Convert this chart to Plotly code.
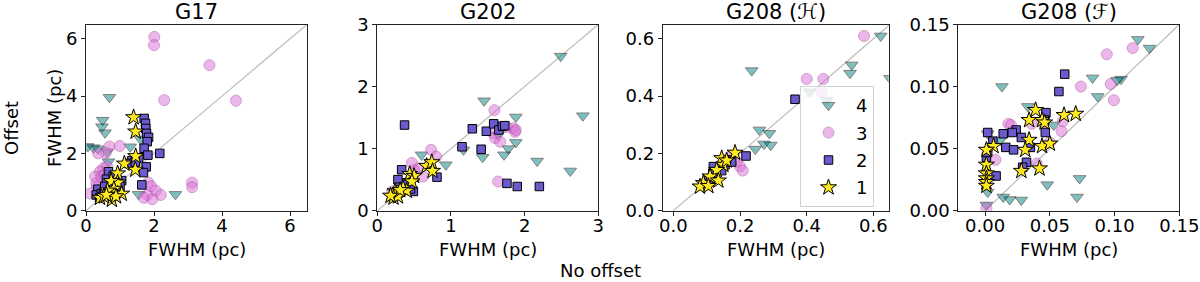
import plotly.graph_objects as go

# ---------------- data ----------------
panel_titles = ["G17", "G202", "G208 (ℋ)", "G208 (ℱ)"]
series_names = ["4", "3", "2", "1"]

# G17
g17_s4_x = [0.69, 0.49, 0.47, 0.56, 0.05, 0.22, 0.35, 1.30, 0.66, 1.55, 2.63, 1.60, 0.62]
g17_s4_y = [3.96, 3.16, 2.93, 2.72, 2.24, 2.20, 2.16, 2.23, 1.71, 0.57, 0.57, 2.50, 2.05]
g17_s3_x = [2.01, 2.00, 3.63, 2.30, 4.41, 3.12, 3.12, 0.69, 0.99, 0.58, 0.51, 0.36, 0.41, 0.27,
            0.32, 0.12, 0.30, 0.45, 0.55, 1.83, 1.92, 2.05, 1.80, 2.20, 1.70, 1.95, 0.62]
g17_s3_y = [6.07, 5.78, 5.08, 3.86, 3.84, 0.98, 0.82, 2.24, 2.26, 2.02, 1.48, 2.00, 1.36, 1.19,
            0.84, 0.60, 0.95, 1.20, 1.25, 0.98, 0.85, 0.70, 0.55, 0.55, 0.45, 0.40, 1.55]
g17_s2_x = [1.71, 1.75, 1.76, 1.78, 1.84, 1.80, 1.71, 1.82, 1.77, 1.69, 1.64, 2.17, 1.55, 1.35,
            1.25, 1.45, 0.66, 0.60, 0.80, 1.05, 0.35, 0.30, 0.40, 0.55, 0.75, 1.00, 0.45]
g17_s2_y = [3.22, 3.05, 2.87, 2.70, 2.56, 2.41, 2.18, 1.94, 1.53, 1.33, 0.90, 2.00, 1.85, 1.75,
            1.65, 1.70, 1.36, 1.10, 1.20, 1.05, 0.75, 0.55, 0.45, 0.85, 0.95, 0.85, 0.60]
g17_s1_x = [1.40, 1.46, 1.46, 1.13, 1.45, 0.93, 0.93, 0.74, 1.05, 0.82, 0.63, 0.41, 0.76, 0.53, 0.88, 0.60]
g17_s1_y = [3.26, 2.76, 1.90, 1.64, 1.43, 1.30, 0.98, 1.03, 0.59, 0.76, 0.70, 0.45, 0.38, 0.50, 0.50, 0.55]

# G202
g202_s4_x = [2.49, 1.45, 1.88, 2.79, 1.88, 1.78, 1.72, 1.43, 1.17, 2.17, 2.62, 0.93, 0.60, 1.64]
g202_s4_y = [2.49, 1.77, 1.51, 1.53, 1.10, 1.00, 0.90, 0.86, 0.98, 0.80, 0.64, 0.74, 0.90, 1.22]
g202_s3_x = [1.59, 0.73, 0.80, 0.47, 0.56, 0.62, 1.57, 1.60, 1.67, 1.76, 1.85, 1.87, 1.88, 1.64,
             0.20, 0.25, 0.35, 0.50]
g202_s3_y = [1.62, 0.98, 0.87, 0.77, 0.68, 0.55, 1.25, 1.17, 1.11, 1.35, 1.33, 1.27, 1.30, 0.47,
             0.31, 0.25, 0.40, 0.65]
g202_s2_x = [0.37, 1.29, 1.15, 1.41, 1.48, 1.58, 1.65, 1.70, 1.73, 1.76, 1.90, 2.20, 0.81, 0.33,
             0.28, 0.49, 0.30, 0.40, 0.25, 0.45]
g202_s2_y = [1.38, 1.32, 1.03, 0.99, 1.28, 1.40, 1.30, 1.36, 1.37, 0.44, 0.39, 0.39, 0.54, 0.66,
             0.50, 0.31, 0.38, 0.45, 0.28, 0.35]
g202_s1_x = [0.67, 0.74, 0.75, 0.44, 0.50, 0.47, 0.35, 0.40, 0.24, 0.22, 0.28, 0.31, 0.18]
g202_s1_y = [0.72, 0.78, 0.64, 0.59, 0.56, 0.47, 0.36, 0.32, 0.31, 0.21, 0.23, 0.33, 0.24]

# G208 (H)
g208h_s4_x = [0.622, 0.535, 0.530, 0.235, 0.650, 0.460, 0.410, 0.258, 0.288, 0.272, 0.292, 0.246]
g208h_s4_y = [0.610, 0.509, 0.480, 0.489, 0.462, 0.386, 0.415, 0.282, 0.270, 0.233, 0.229, 0.215]
g208h_s3_x = [0.572, 0.400, 0.450, 0.445, 0.190, 0.200, 0.208, 0.170]
g208h_s3_y = [0.610, 0.460, 0.460, 0.415, 0.171, 0.155, 0.140, 0.190]
g208h_s2_x = [0.365, 0.218, 0.165, 0.155, 0.145, 0.120, 0.118, 0.105, 0.175]
g208h_s2_y = [0.389, 0.191, 0.177, 0.160, 0.140, 0.154, 0.130, 0.110, 0.170]
g208h_s1_x = [0.185, 0.145, 0.150, 0.130, 0.110, 0.135, 0.090, 0.080, 0.105, 0.160]
g208h_s1_y = [0.202, 0.183, 0.160, 0.142, 0.119, 0.105, 0.096, 0.084, 0.086, 0.175]

# G208 (F)
g208f_s4_x = [0.118, 0.127, 0.105, 0.102, 0.083, 0.087, 0.013, 0.033, 0.053, 0.073, 0.071, 0.048,
              0.028, 0.019, 0.014, 0.001, 0.002, 0.002, 0.012]
g208f_s4_y = [0.138, 0.131, 0.106, 0.105, 0.107, 0.092, 0.100, 0.084, 0.069, 0.026, 0.011, 0.021,
              0.0086, 0.009, 0.011, 0.0046, 0.015, 0.062, 0.057]
g208f_s3_x = [0.094, 0.114, 0.097, 0.0995, 0.074, 0.060, 0.059, 0.045, 0.036, 0.018, 0.008, 0.040,
              0.001, 0.050, 0.020]
g208f_s3_y = [0.126, 0.131, 0.102, 0.089, 0.100, 0.072, 0.064, 0.070, 0.070, 0.070, 0.041, 0.038,
              0.002, 0.055, 0.069]
g208f_s2_x = [0.0615, 0.057, 0.047, 0.046, 0.0465, 0.002, 0.006, 0.014, 0.024, 0.021, 0.028, 0.016,
              0.022, 0.035, 0.001, 0.032, 0.029, 0.0085, 0.002]
g208f_s2_y = [0.110, 0.096, 0.079, 0.073, 0.063, 0.063, 0.056, 0.062, 0.065, 0.063, 0.059, 0.051,
              0.049, 0.051, 0.043, 0.039, 0.035, 0.028, 0.047]
g208f_s1_x = [0.039, 0.034, 0.044, 0.046, 0.061, 0.070, 0.034, 0.031, 0.044, 0.050, 0.0065, 0.001,
              0.001, 0.001, 0.001, 0.001, 0.001, 0.028, 0.042]
g208f_s1_y = [0.081, 0.073, 0.073, 0.071, 0.077, 0.078, 0.057, 0.049, 0.052, 0.054, 0.052, 0.049,
              0.037, 0.030, 0.026, 0.023, 0.020, 0.032, 0.034]

# axis settings
x_ranges = [[0, 6.5], [0, 3], [-0.032, 0.646], [-0.0207, 0.15]]
y_ranges = [[0, 6.5], [0, 3], [0, 0.65], [0, 0.15]]
tick_vals = [[0, 2, 4, 6], [0, 1, 2, 3], [0.0, 0.2, 0.4, 0.6], [0.00, 0.05, 0.10, 0.15]]
tick_fmt = ["d", "d", ".1f", ".2f"]

panels = [
    [(g17_s4_x, g17_s4_y), (g17_s3_x, g17_s3_y), (g17_s2_x, g17_s2_y), (g17_s1_x, g17_s1_y)],
    [(g202_s4_x, g202_s4_y), (g202_s3_x, g202_s3_y), (g202_s2_x, g202_s2_y), (g202_s1_x, g202_s1_y)],
    [(g208h_s4_x, g208h_s4_y), (g208h_s3_x, g208h_s3_y), (g208h_s2_x, g208h_s2_y), (g208h_s1_x, g208h_s1_y)],
    [(g208f_s4_x, g208f_s4_y), (g208f_s3_x, g208f_s3_y), (g208f_s2_x, g208f_s2_y), (g208f_s1_x, g208f_s1_y)],
]

# ---------------- layout helpers ----------------
W, H = 1200, 282
FONT = "DejaVu Sans"


def px_x(X):
    return X / W


def px_y(Y):
    return 1 - Y / H


x_domains = [[86, 307], [377.3, 598.3], [662.7, 888.7], [958.3, 1179.3]]
y_domain = [px_y(210.7), px_y(24.5)]

styles = [
    dict(symbol="triangle-down", size=11, color="#008080", opacity=0.5, line=dict(color="#000000", width=1)),
    dict(symbol="circle", size=11, color="#DA70D6", opacity=0.5, line=dict(color="#a040a0", width=1)),
    dict(symbol="square", size=8.5, color="#6A5ACD", opacity=1.0, line=dict(color="#000000", width=1)),
    dict(symbol="star", size=12, color="#FFEA1F", opacity=1.0, line=dict(color="#000000", width=1)),
]

fig = go.Figure()

for p, series in enumerate(panels):
    ax = "" if p == 0 else str(p + 1)
    lo = min(x_ranges[p][0], y_ranges[p][0])
    hi = max(x_ranges[p][1], y_ranges[p][1])
    fig.add_trace(go.Scatter(x=[lo, hi], y=[lo, hi], mode="lines",
                             line=dict(color="#bdbdbd", width=1.2),
                             xaxis="x" + ax, yaxis="y" + ax, showlegend=False, hoverinfo="skip"))
    for s, (xs, ys) in enumerate(series):
        st = styles[s]
        fig.add_trace(go.Scatter(
            x=xs, y=ys, mode="markers", name=series_names[s],
            marker=dict(symbol=st["symbol"], size=st["size"], color=st["color"],
                        opacity=st["opacity"], line=st["line"]),
            xaxis="x" + ax, yaxis="y" + ax,
            showlegend=(p == 2), legendgroup=series_names[s],
        ))

layout = dict(
    template="none",
    width=W, height=H,
    margin=dict(l=0, r=0, t=0, b=0, autoexpand=False),
    paper_bgcolor="white", plot_bgcolor="white",
    font=dict(family=FONT, size=18, color="black"),
    legend=dict(x=px_x(800), y=px_y(86), xanchor="left", yanchor="top",
                bgcolor="rgba(255,255,255,0.8)", bordercolor="#d0d0d0", borderwidth=1,
                font=dict(family=FONT, size=18), traceorder="grouped", tracegroupgap=1,
                itemwidth=45),
    annotations=[],
)

for p in range(4):
    ax = "" if p == 0 else str(p + 1)
    common = dict(showline=True, mirror=True, linecolor="#222222", linewidth=1,
                  ticks="outside", ticklen=4, tickwidth=1, tickcolor="#222222",
                  showgrid=False, zeroline=False, automargin=False,
                  tickfont=dict(family=FONT, size=18, color="black"))
    layout["xaxis" + ax] = dict(domain=[px_x(x_domains[p][0]), px_x(x_domains[p][1])],
                                range=x_ranges[p], tickvals=tick_vals[p], tickformat=tick_fmt[p],
                                anchor="y" + ax, ticklabelstandoff=-5, **common)
    layout["yaxis" + ax] = dict(domain=y_domain, range=y_ranges[p], tickvals=tick_vals[p],
                                tickformat=tick_fmt[p], anchor="x" + ax, **common)
    cx = px_x((x_domains[p][0] + x_domains[p][1]) / 2)
    layout["annotations"].append(dict(text=panel_titles[p], x=cx, y=px_y(12), xref="paper", yref="paper",
                                      showarrow=False, xanchor="center", yanchor="middle",
                                      font=dict(family=FONT, size=21)))
    layout["annotations"].append(dict(text="FWHM (pc)", x=cx, y=px_y(249), xref="paper", yref="paper",
                                      showarrow=False, xanchor="center", yanchor="middle",
                                      font=dict(family=FONT, size=18)))

layout["annotations"].append(dict(text="FWHM (pc)", x=px_x(54), y=px_y(118), xref="paper", yref="paper",
                                  showarrow=False, textangle=-90, xanchor="center", yanchor="middle",
                                  font=dict(family=FONT, size=18)))
layout["annotations"].append(dict(text="Offset", x=px_x(11), y=px_y(128), xref="paper", yref="paper",
                                  showarrow=False, textangle=-90, xanchor="center", yanchor="middle",
                                  font=dict(family=FONT, size=18)))
layout["annotations"].append(dict(text="No offset", x=px_x(600), y=px_y(270), xref="paper", yref="paper",
                                  showarrow=False, xanchor="center", yanchor="middle",
                                  font=dict(family=FONT, size=18)))

fig.update_layout(**layout)
fig.write_html("out.html", config={"displayModeBar": False},
               post_script="document.body.style.margin = '0px';")
